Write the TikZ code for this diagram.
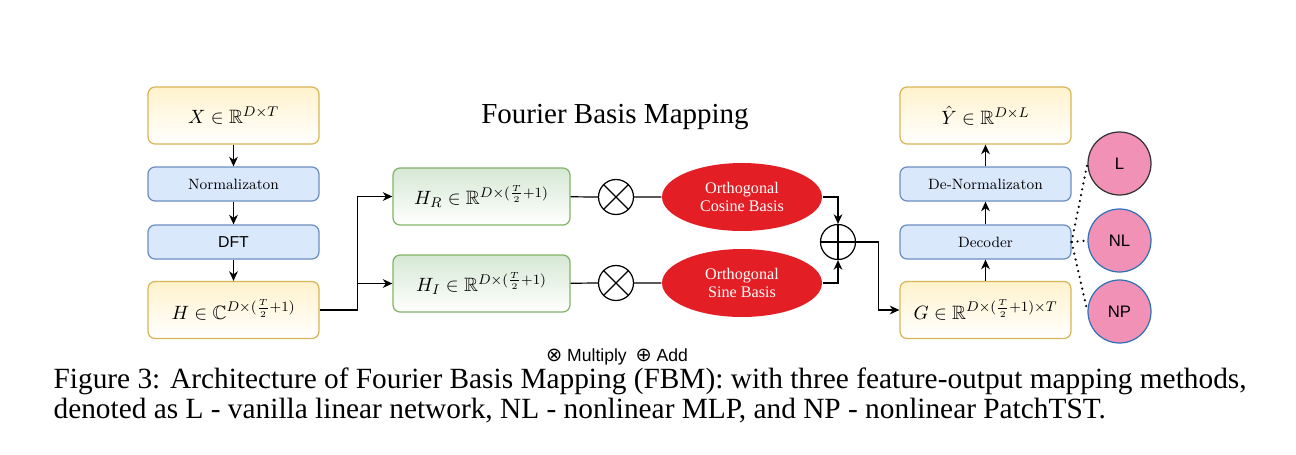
\documentclass[tikz,border=0pt]{standalone}
\usepackage{amsmath}
\usepackage{amssymb}
\usepackage{fontspec}
\newfontfamily\timesf{Liberation Serif}
\newfontfamily\arialf{Liberation Sans}
\newfontfamily\symf{DejaVu Sans}
\usetikzlibrary{arrows.meta,shapes.geometric}

\definecolor{ylwline}{HTML}{D6B656}
\definecolor{ylwfill}{HTML}{FFF2CC}
\definecolor{bluline}{HTML}{6C8EBF}
\definecolor{blufill}{HTML}{DAE8FC}
\definecolor{grnline}{HTML}{82B366}
\definecolor{grnfill}{HTML}{D5E8D4}
\definecolor{basisred}{HTML}{E31E24}
\definecolor{headpink}{HTML}{F291B6}
\definecolor{headblue}{HTML}{2F72B5}

\begin{document}
\begin{tikzpicture}[x=0.02cm,y=-0.02cm,line width=0.7pt,
	>={Stealth[length=5.5pt,width=5pt]},
	ybox/.style={draw=ylwline, rounded corners=4pt, top color=ylwfill, bottom color=white, minimum width=3.42cm, minimum height=1.14cm, inner sep=0pt, font=\fontsize{11}{13}\selectfont},
	bbox/.style={draw=bluline, fill=blufill, rounded corners=4pt, minimum width=3.42cm, minimum height=0.68cm, inner sep=0pt, font=\fontsize{8.5}{10}\selectfont},
	gbox/.style={draw=grnline, rounded corners=4pt, top color=grnfill, bottom color=white, minimum width=3.54cm, minimum height=1.14cm, inner sep=0pt, font=\fontsize{11}{13}\selectfont},
	basis/.style={ellipse, fill=basisred, text=white, minimum width=3.2cm, minimum height=1.36cm, inner sep=0pt, align=center, font=\timesf\fontsize{9.2}{10.2}\selectfont},
	mul/.style={circle, draw, minimum size=0.7cm, inner sep=0pt, path picture={
		\draw (path picture bounding box.north west) -- (path picture bounding box.south east)
		      (path picture bounding box.north east) -- (path picture bounding box.south west);}},
	addop/.style={circle, draw, minimum size=0.7cm, inner sep=0pt, path picture={
		\draw (path picture bounding box.north) -- (path picture bounding box.south)
		      (path picture bounding box.west) -- (path picture bounding box.east);}},
	head/.style={circle, fill=headpink, draw=headblue, minimum size=1.26cm, inner sep=0pt, font=\arialf\fontsize{9.5}{11}\selectfont},
	]
	\useasboundingbox (0,0) rectangle (1296,454);

	%linke Spalte
	\node[ybox] (X) at (233.5,115.5) {$X \in \mathbb{R}^{D\times T}$};
	\node[bbox] (norm) at (233.5,184) {Normalizaton};
	\node[bbox, font=\arialf\fontsize{9}{11}\selectfont] (dft) at (233.5,242) {DFT};
	\node[ybox] (H) at (233.5,310) {$H \in \mathbb{C}^{D\times(\frac{T}{2}+1)}$};

	%Titel
	\node[font=\timesf\fontsize{16.5}{19}\selectfont] (title) at (615,117) {Fourier Basis Mapping};

	%Real- und Imaginaerteil
	\node[gbox] (HR) at (481.5,196.5) {$H_R \in \mathbb{R}^{D\times(\frac{T}{2}+1)}$};
	\node[gbox] (HI) at (481.5,283.5) {$H_I \in \mathbb{R}^{D\times(\frac{T}{2}+1)}$};
	\node[mul] (mulR) at (616,197) {};
	\node[mul] (mulI) at (616,283) {};
	\node[basis] (cos) at (742,197) {Orthogonal\\Cosine Basis};
	\node[basis] (sin) at (742,283) {Orthogonal\\Sine Basis};
	\node[addop] (add) at (838,242) {};

	%rechte Spalte
	\node[ybox] (Y) at (985.5,115.5) {$\hat{Y} \in \mathbb{R}^{D\times L}$};
	\node[bbox] (denorm) at (985.5,184) {De-Normalizaton};
	\node[bbox] (dec) at (985.5,242) {Decoder};
	\node[ybox] (G) at (985.5,310) {$G \in \mathbb{R}^{D\times(\frac{T}{2}+1)\times T}$};

	%Mapping-Varianten
	\node[head, draw=black!80] (L) at (1119.5,163.5) {L};
	\node[head] (NL) at (1119.5,240.5) {NL};
	\node[head] (NP) at (1119.5,311.5) {NP};

	%Pfeile
	\draw[->] (X) -- (norm);
	\draw[->] (norm) -- (dft);
	\draw[->] (dft) -- (H);
	\draw[->] (H.east) -- ++(38,0) |- (HR.west);
	\draw[->] (H.east) -- ++(38,0) |- (HI.west);
	\draw (HR) -- (mulR) -- (cos);
	\draw (HI) -- (mulI) -- (sin);
	\draw[->] (cos.east) -| (add.north);
	\draw[->] (sin.east) -| (add.south);
	\draw[->] (add.east) -- ++(22,0) |- (G.west);
	\draw[->] (G) -- (dec);
	\draw[->] (dec) -- (denorm);
	\draw[->] (denorm) -- (Y);

	%gepunktete Verbindungen
	\foreach \m in {L,NL,NP}
		\draw[line width=1.4pt, line cap=round, dash pattern=on 0pt off 3.4pt] (dec.east) -- (\m.west);

	%Legende
	\node[font=\arialf\fontsize{10}{12}\selectfont] (legend) at (617,357) {{\symf\fontsize{11}{12}\selectfont ⊗} Multiply\enspace {\symf\fontsize{11}{12}\selectfont ⊕} Add};

	%Bildunterschrift
	\node[anchor=base west, inner sep=0pt, font=\timesf\fontsize{16.7}{19}\selectfont] (cap1) at (53,388)
		{Figure 3: Architecture of Fourier Basis Mapping (FBM): with three feature-output mapping methods,};
	\node[anchor=base west, inner sep=0pt, font=\timesf\fontsize{16.7}{19}\selectfont] (cap2) at (53,418)
		{denoted as L - vanilla linear network, NL - nonlinear MLP, and NP - nonlinear PatchTST.};
\end{tikzpicture}
\end{document}
